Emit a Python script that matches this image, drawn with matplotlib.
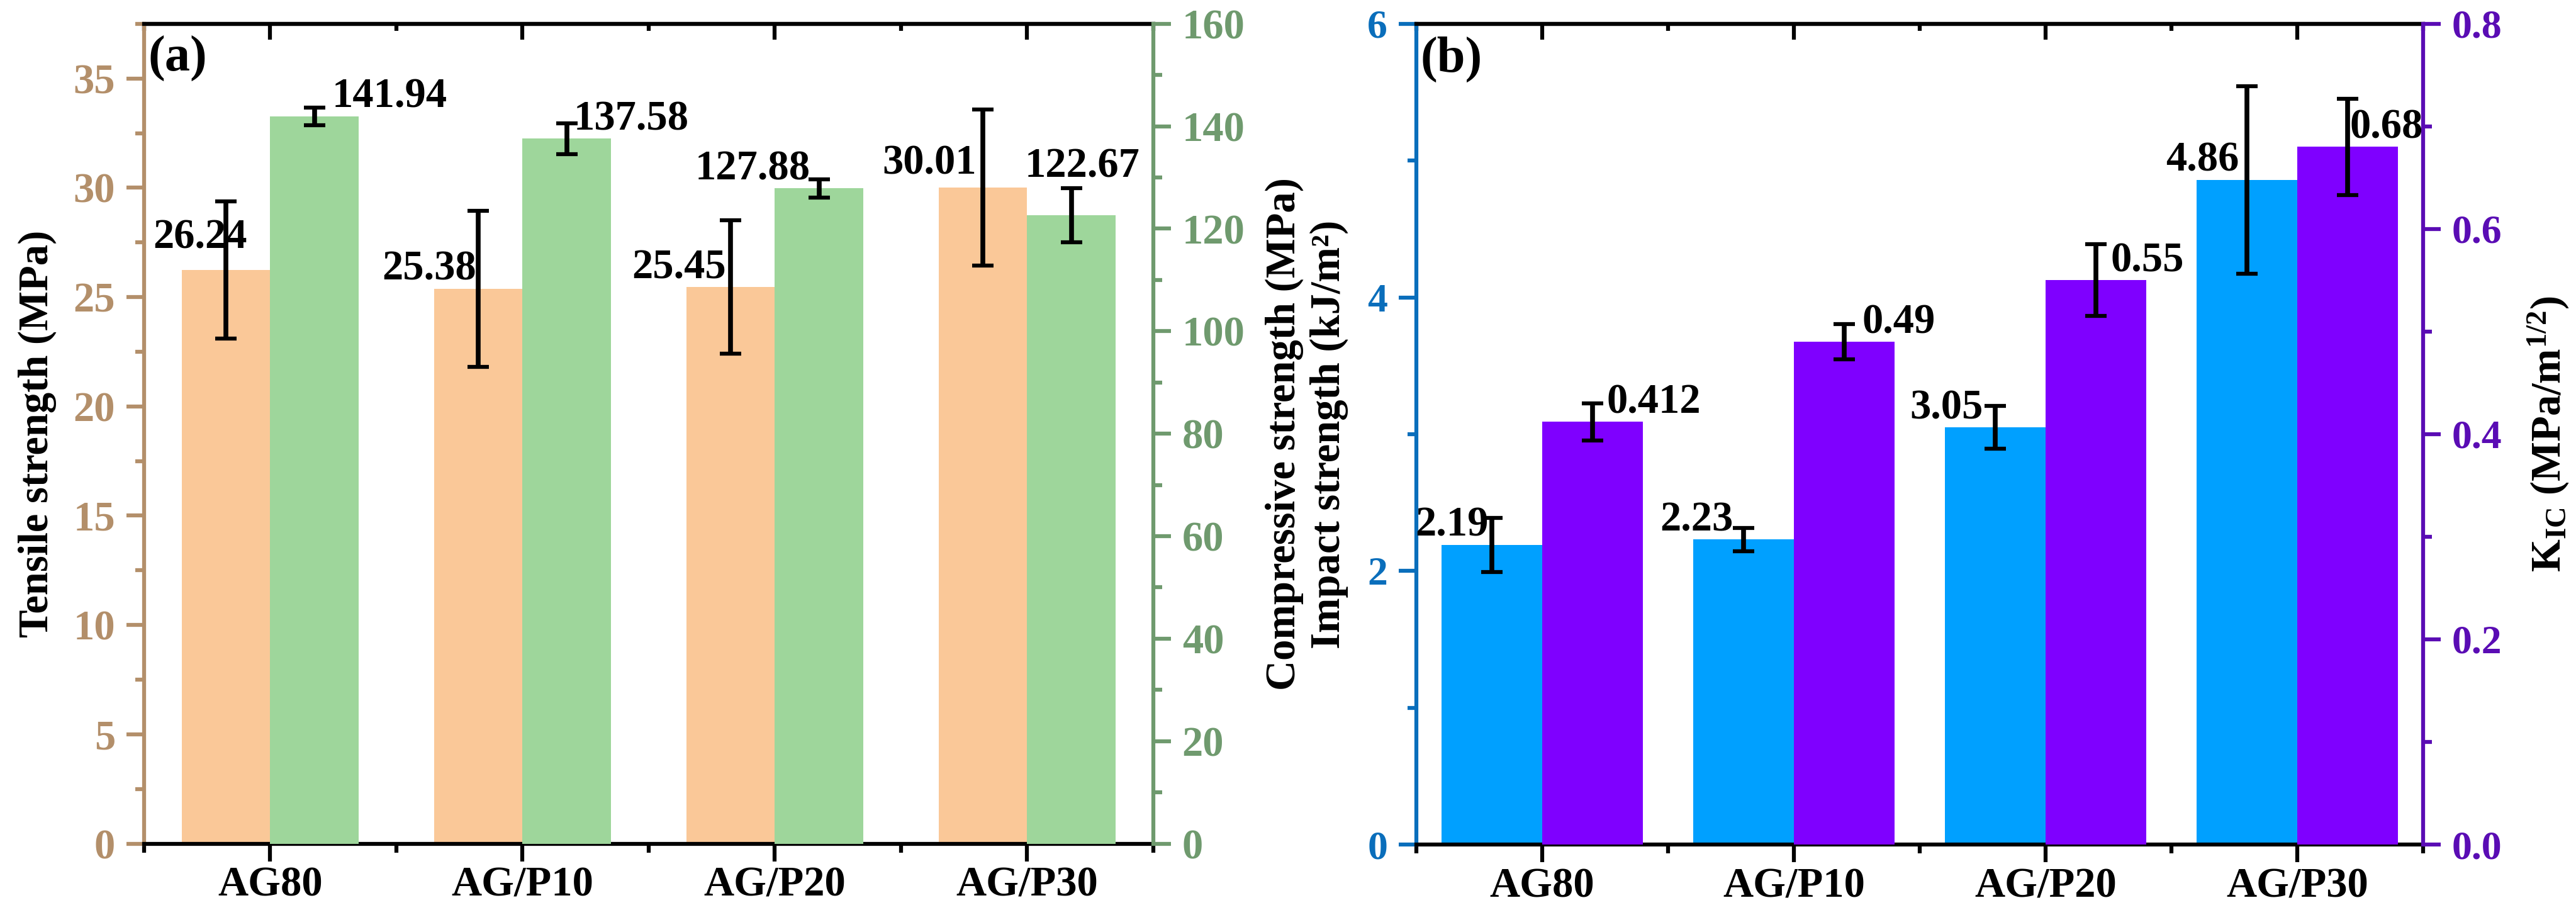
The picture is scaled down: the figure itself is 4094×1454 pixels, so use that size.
import matplotlib
matplotlib.use('Agg')
import matplotlib.pyplot as plt
from matplotlib.ticker import MultipleLocator, FormatStrFormatter
import numpy as np

plt.rcParams['font.family'] = ['Liberation Serif', 'DejaVu Serif']
plt.rcParams['font.weight'] = 'bold'
plt.rcParams['mathtext.fontset'] = 'custom'
plt.rcParams['mathtext.rm'] = 'Liberation Serif:bold'
plt.rcParams['mathtext.bf'] = 'Liberation Serif:bold'
plt.rcParams['mathtext.it'] = 'Liberation Serif:bold'

# data
cats = ['AG80', 'AG/P10', 'AG/P20', 'AG/P30']
tensile = [26.24, 25.38, 25.45, 30.01]
tensile_err = [3.15, 3.56, 3.05, 3.57]
compressive = [141.94, 137.58, 127.88, 122.67]
compressive_err = [1.7, 3.0, 1.75, 5.25]
impact = [2.19, 2.23, 3.05, 4.86]
impact_err = [0.2, 0.085, 0.155, 0.685]
kic = [0.412, 0.49, 0.55, 0.68]
kic_err = [0.018, 0.017, 0.035, 0.047]

# label placement (dx in bar widths, alignment, dy in axis units)
tensile_lab = [(0.24, 'right', 0.58), (-0.02, 'right', 0.0), (-0.05, 'right', 0.0), (-0.07, 'right', 0.22)]
compressive_lab = [(0.2, 'left', 0.0), (0.08, 'left', 0.0), (-0.1, 'right', 0.0), (-0.53, 'left', 5.7)]
impact_lab = [(-0.03, 'right', 0), (-0.1, 'right', 0), (-0.12, 'right', 0), (-0.08, 'right', 0)]
kic_lab = [(0.14, 'left', 0), (0.18, 'left', 0), (0.15, 'left', 0), (0.02, 'left', 0)]

c_orange = '#FAC898'
c_green = '#9ED69B'
c_tan = '#B38F6A'
c_gaxis = '#6F9A6E'
c_blue = '#00A0FF'
c_baxis = '#0A6EBB'
c_purple = '#7F00FF'
c_paxis = '#5A0CB4'

XTICK = 48
DLAB = 48
SP = 4.5


def style_x(ax):
    x = np.arange(len(cats))
    ax.set_xlim(-0.5, 3.5)
    ax.set_xticks(x)
    ax.set_xticklabels(cats, fontsize=XTICK, fontweight='bold')
    ax.set_xticks(np.arange(-0.5, 4.0, 1.0), minor=True)
    ax.tick_params(axis='x', which='major', direction='out', length=20, width=SP, pad=6)
    ax.tick_params(axis='x', which='minor', direction='out', length=10, width=SP)
    ax.spines['top'].set_linewidth(SP)
    ax.spines['bottom'].set_linewidth(SP)
    top = ax.secondary_xaxis('top')
    top.set_xticks(x)
    top.set_xticks(np.arange(-0.5, 4.0, 1.0), minor=True)
    top.tick_params(axis='x', which='major', direction='in', length=18, width=SP, labeltop=False)
    top.tick_params(axis='x', which='minor', direction='in', length=8, width=SP)
    top.spines['top'].set_linewidth(SP)


def style_y(ax, side, color, lim, major, minor, size):
    ax.set_ylim(*lim)
    ax.yaxis.set_major_locator(MultipleLocator(major))
    ax.yaxis.set_minor_locator(MultipleLocator(minor))
    ax.spines[side].set_color(color)
    ax.spines[side].set_linewidth(SP)
    ax.tick_params(axis='y', which='major', direction='out', length=20, width=SP,
                   colors=color, labelsize=size, pad=13)
    ax.tick_params(axis='y', which='minor', direction='out', length=10, width=SP, colors=color)


def put_labels(ax, xs, vals, lab, w):
    for xi, v, (dx, ha, dy) in zip(xs, vals, lab):
        ax.text(xi + dx * w, v + dy, str(v), ha=ha, va='bottom', fontsize=DLAB,
                fontweight='bold', color='black', zorder=5)


def draw_bars(ax, xs, vals, errs, w, color):
    ax.bar(xs, vals, w, color=color, zorder=2)
    ax.errorbar(xs, vals, yerr=errs, fmt='none', ecolor='black',
                elinewidth=5.5, capsize=12, capthick=4.5, zorder=3)


fig = plt.figure(figsize=(40.94, 14.54), dpi=100)
x = np.arange(len(cats))

# panel (a)
wa = 0.35
ax1 = fig.add_axes([0.0559, 0.078, 0.3918, 0.896])
ax2 = ax1.twinx()
draw_bars(ax1, x - wa / 2, tensile, tensile_err, wa, c_orange)
draw_bars(ax2, x + wa / 2, compressive, compressive_err, wa, c_green)
style_x(ax1)
style_y(ax1, 'left', c_tan, (0, 37.5), 5, 2.5, 48)
style_y(ax2, 'right', c_gaxis, (0, 160), 20, 10, 48)
ax1.spines['right'].set_visible(False)
for s in ['left', 'top', 'bottom']:
    ax2.spines[s].set_visible(False)
put_labels(ax1, x - wa / 2, tensile, tensile_lab, wa)
put_labels(ax2, x + wa / 2, compressive, compressive_lab, wa)
ax1.text(-0.106, 0.5, 'Tensile strength (MPa)', transform=ax1.transAxes, rotation=90,
         ha='center', va='center', fontsize=48, fontweight='bold')
ax2.text(0.004, 0.985, '(a)', transform=ax1.transAxes, ha='left', va='top',
         fontsize=58, fontweight='bold')

# panel (b)
wb = 0.4
ax3 = fig.add_axes([0.5498, 0.077, 0.3908, 0.897])
ax4 = ax3.twinx()
draw_bars(ax3, x - wb / 2, impact, impact_err, wb, c_blue)
draw_bars(ax4, x + wb / 2, kic, kic_err, wb, c_purple)
style_x(ax3)
style_y(ax3, 'left', c_baxis, (0, 6), 2, 1, 46)
style_y(ax4, 'right', c_paxis, (0, 0.8), 0.2, 0.1, 46)
ax4.yaxis.set_major_formatter(FormatStrFormatter('%.1f'))
ax3.spines['right'].set_visible(False)
for s in ['left', 'top', 'bottom']:
    ax4.spines[s].set_visible(False)
put_labels(ax3, x - wb / 2, impact, impact_lab, wb)
put_labels(ax4, x + wb / 2, kic, kic_lab, wb)
ax3.text(-0.109, 0.5, 'Compressive strength (MPa)\nImpact strength (kJ/m\u00b2)',
         transform=ax3.transAxes, rotation=90, ha='center', va='center',
         multialignment='center', linespacing=1.2, fontsize=48, fontweight='bold')
ax4.text(1.125, 0.5, r'K$_{\mathrm{IC}}$ (MPa/m$^{\mathrm{1/2}}$)', transform=ax3.transAxes,
         rotation=90, ha='center', va='center', fontsize=48, fontweight='bold')
ax4.text(0.004, 0.985, '(b)', transform=ax3.transAxes, ha='left', va='top',
         fontsize=58, fontweight='bold')

fig.savefig('out.png', dpi=100)
